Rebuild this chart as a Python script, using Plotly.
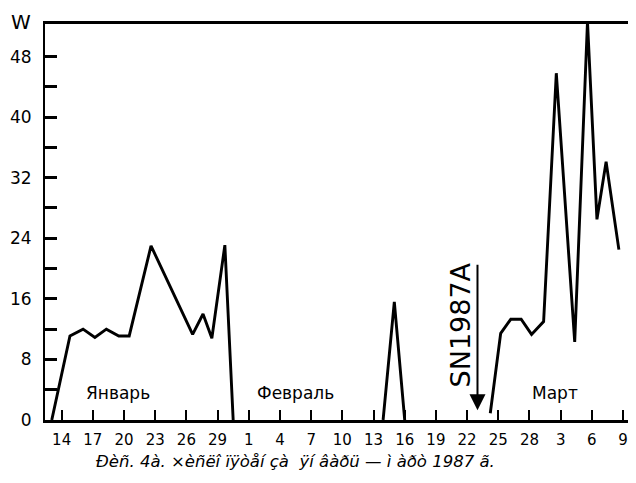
import plotly.graph_objects as go

# ---- data (day-of-year 1987; Jan 1 = 1) ----
jan_days = [13.05, 14.8, 16.06, 17.2, 18.3, 19.5, 20.5, 22.6, 26.6, 27.6, 28.45, 29.7, 30.5]
jan_vals = [0, 11.1, 12.0, 10.9, 12.0, 11.1, 11.1, 23.0, 11.3, 14.0, 10.8, 23.1, 0]

feb_days = [44.92, 46.0, 47.0]
feb_vals = [0, 15.6, 0]

mar_days = [55.23, 56.23, 57.2, 58.2, 59.2, 60.36, 61.58, 63.35, 64.58, 65.49, 66.37, 67.6]
mar_vals = [0.9, 11.45, 13.3, 13.3, 11.3, 13.0, 45.8, 10.3, 52.6, 26.5, 34.1, 22.5]

x_tick_days = [14, 17, 20, 23, 26, 29, 32, 35, 38, 41, 44, 47, 50, 53, 56, 59, 62, 65, 68]
x_tick_labels = ["14", "17", "20", "23", "26", "29", "1", "4", "7", "10", "13", "16",
                 "19", "22", "25", "28", "3", "6", "9"]

y_tick_vals = [0, 4, 8, 12, 16, 20, 24, 28, 32, 36, 40, 44, 48]
y_tick_labels = ["0", "", "8", "", "16", "", "24", "", "32", "", "40", "", "48"]

month_names = ["Январь", "Февраль", "Март"]
month_pos = [19.4, 36.5, 61.5]

sn_day = 54  # 23 Feb
caption = "Ðèñ. 4à. ×èñëî ïÿòåí çà  ÿí âàðü — ì àðò 1987 ã."

# ---- build ----
xs, ys = [], []
for d, v in ((jan_days, jan_vals), (feb_days, feb_vals), (mar_days, mar_vals)):
    xs += d + [None]
    ys += v + [None]

fig = go.Figure()
fig.add_trace(go.Scatter(x=xs, y=ys, mode="lines",
                         line=dict(color="black", width=2.9),
                         connectgaps=False, hoverinfo="skip", showlegend=False))

font_main = "DejaVu Sans"

# page body has an 8px margin, so the figure is sized/margined to compensate
fig.update_layout(
    width=628, height=475,
    margin=dict(l=37, r=1, t=16, b=63, autoexpand=False),
    paper_bgcolor="white", plot_bgcolor="white",
    showlegend=False,
    xaxis=dict(range=[12.4, 69.15], tickmode="array", tickvals=x_tick_days,
               ticktext=x_tick_labels, ticks="inside", ticklen=10, tickwidth=2,
               tickcolor="black", showline=True, linecolor="black", linewidth=3,
               mirror=True, showgrid=False, zeroline=False, automargin=False,
               tickfont=dict(family=font_main, size=15, color="black"),
               ticklabelstandoff=4),
    yaxis=dict(range=[0, 52.3], tickmode="array", tickvals=y_tick_vals,
               ticktext=y_tick_labels, ticks="inside", ticklen=12, tickwidth=2.5,
               tickcolor="black", showline=True, linecolor="black", linewidth=2,
               showgrid=False, zeroline=False, automargin=False,
               tickfont=dict(family=font_main, size=17, color="black"),
               ticklabelstandoff=8),
)

# right border (thin)
fig.add_shape(type="line", xref="paper", yref="paper", x0=1, x1=1, y0=0, y1=1,
              line=dict(color="black", width=1.2))

# axis unit label
fig.add_annotation(text="W", xref="paper", yref="paper", x=-0.041, y=1.005,
                   showarrow=False, xanchor="center", yanchor="middle",
                   font=dict(family=font_main, size=20, color="black"))

# month labels
for name, pos in zip(month_names, month_pos):
    fig.add_annotation(text=name, x=pos, y=3.6, xref="x", yref="y", showarrow=False,
                       xanchor="center", yanchor="middle",
                       font=dict(family=font_main, size=17, color="black"))

# SN1987A arrow
fig.add_annotation(x=sn_day, y=1.3, ax=sn_day, ay=20.7, xref="x", yref="y",
                   axref="x", ayref="y", text="", showarrow=True,
                   arrowhead=2, arrowsize=1.6, arrowwidth=2, arrowcolor="black")
fig.add_annotation(text="SN1987A", x=sn_day - 1.6, y=12.6, xref="x", yref="y",
                   showarrow=False, textangle=-90, xanchor="center", yanchor="middle",
                   font=dict(family=font_main, size=27, color="black"))

# caption
fig.add_annotation(text="<i>" + caption + "</i>", xref="paper", yref="paper",
                   x=0.425, y=-0.106, showarrow=False, xanchor="center", yanchor="middle",
                   font=dict(family=font_main, size=16.5, color="black"))

fig.write_html("out.html")
